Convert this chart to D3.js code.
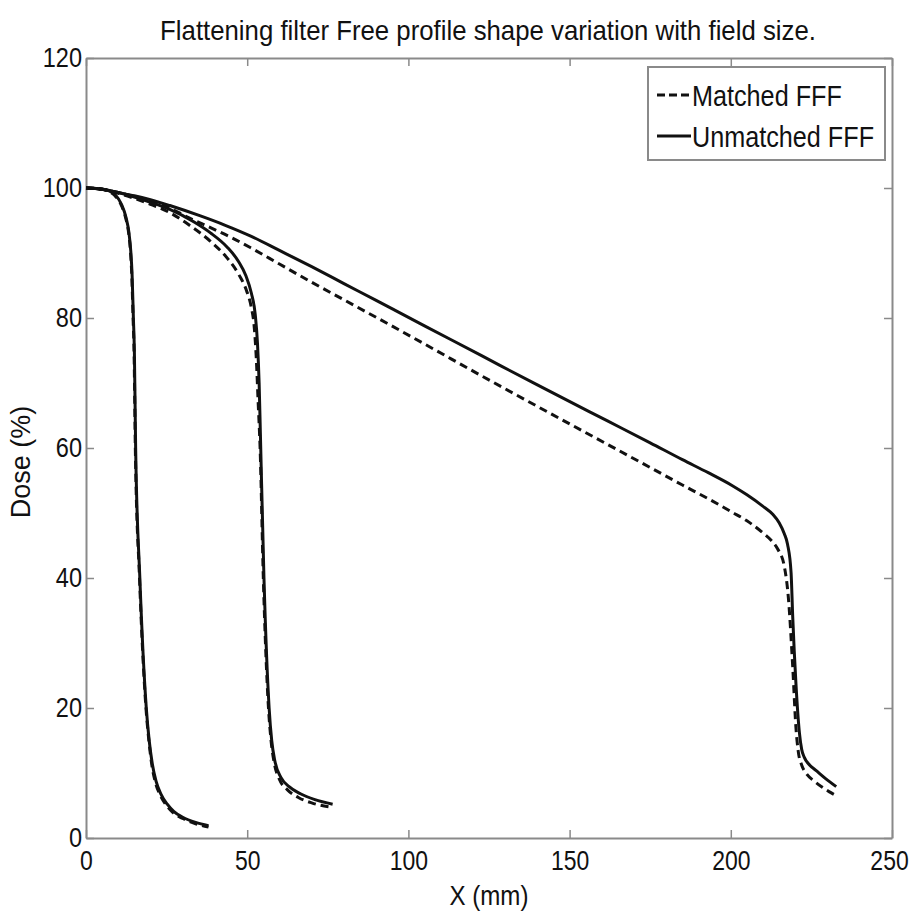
<!DOCTYPE html>
<html>
<head>
<meta charset="utf-8">
<script src="https://cdn.jsdelivr.net/npm/d3@7"></script>
<style>
  body { margin: 0; background: #fff; }
  svg text { font-family: "Liberation Sans", Arial, sans-serif; fill: #111; }
</style>
</head>
<body>
<div id="chart"></div>
<script>
// profile data: [X (mm), Dose (%)]
const matchedSmall = [
  [0, 100], [4, 99.9], [7, 99.5], [9, 98.8], [11, 97.3], [12.3, 95.4], [13.2, 93.2],
  [13.8, 90.2], [14.2, 86.6], [14.6, 80], [14.9, 75], [15.3, 60], [16.6, 40], [18.6, 20],
  [19.5, 15], [20.4, 11.3], [21.5, 8.6], [23, 6.6], [25, 5], [27, 3.9], [30, 3.0],
  [34, 2.2], [38, 1.7]
];
const unmatchedSmall = [
  [0, 100], [4, 99.9], [7, 99.6], [9, 99.0], [11, 97.5], [12.4, 95.5], [13.3, 93.2],
  [13.9, 90.2], [14.3, 86.6], [14.7, 80], [15.0, 75], [15.4, 60], [16.7, 40], [18.7, 20],
  [19.6, 15], [20.6, 11.3], [21.7, 8.8], [23.2, 6.8], [25.2, 5.2], [27.2, 4.1], [30, 3.2],
  [34, 2.4], [38, 1.9]
];
const matchedMedium = [
  [0, 100], [5, 99.8], [10, 99.2], [15, 98.4], [20, 97.5], [26, 96.2], [32, 94.3],
  [38.6, 91.8], [44, 89.1], [47.5, 86.6], [49.8, 84.2], [51.2, 81.8], [52.2, 78.5],
  [52.8, 74], [53.4, 67], [54, 60], [55, 40], [56.6, 20], [57.4, 15], [58.4, 11.5],
  [60, 9], [62.5, 7.4], [66, 6.2], [70, 5.4], [76.5, 4.7]
];
const unmatchedMedium = [
  [0, 100], [5, 99.8], [10, 99.3], [15, 98.6], [20, 97.8], [26, 96.7], [33.4, 94.8],
  [38.6, 93.1], [43.8, 90.9], [47.3, 88.7], [49.6, 86.5], [51.3, 83.8], [52.5, 80.5],
  [53.2, 76], [53.7, 70], [54.1, 62], [55.2, 40], [56.8, 20], [57.6, 15], [58.6, 11.8],
  [60.5, 9.3], [63, 7.9], [66.5, 6.8], [71, 5.9], [76.5, 5.2]
];
const matchedLarge = [
  [0, 100], [5, 99.8], [10, 99.3], [15, 98.7], [20, 98.0], [26, 96.9], [32, 95.4],
  [38.6, 93.9], [45, 92.4], [51.1, 90.8], [60, 88.3], [70, 85.5], [80, 82.8], [90, 80.1],
  [105, 76.0], [122.7, 71.1], [140, 66.4], [161.6, 60.6], [175, 57.0], [185, 54.3],
  [193, 52.2], [200.5, 50.1], [205, 48.8], [209.8, 47], [212.5, 45.8], [214.5, 44.5],
  [216.6, 41.8], [217.9, 36.7], [219.2, 26.4], [220.2, 17], [220.9, 13.4], [222, 11.2],
  [223.3, 10], [226, 8.7], [230.6, 7.1], [232, 6.7]
];
const unmatchedLarge = [
  [0, 100], [5, 99.8], [10, 99.3], [15, 98.8], [20, 98.2], [26, 97.3], [35.5, 95.7],
  [43, 94.3], [51.1, 92.6], [60, 90.4], [70, 87.9], [80, 85.3], [90, 82.7], [105, 78.8],
  [122.7, 74.2], [140, 69.7], [161.6, 64.2], [175, 60.8], [185, 58.2], [193, 56.2],
  [200.5, 54.2], [205, 52.8], [209.8, 51.1], [213, 49.8], [215, 48.5], [216.6, 46.8],
  [217.6, 45.2], [218.7, 40.8], [219.2, 34.1], [220.2, 23.8], [221.3, 16.1], [222, 13.6],
  [222.8, 12.4], [224.5, 11.2], [226.4, 10.4], [229.5, 9.1], [232.7, 7.9]
];

const xTicks = [0, 50, 100, 150, 200, 250];
const yTicks = [0, 20, 40, 60, 80, 100, 120];

const series = [
  { name: "Matched FFF", dashed: true, curves: [matchedSmall, matchedMedium, matchedLarge] },
  { name: "Unmatched FFF", dashed: false, curves: [unmatchedSmall, unmatchedMedium, unmatchedLarge] }
];

const width = 917;
const height = 920;
const margin = { left: 86, right: 25, top: 58, bottom: 82 };

const svg = d3.select("#chart")
  .append("svg")
  .attr("width", width)
  .attr("height", height);

//original text is tall and condensed, squeeze it horizontally
const squeeze = (sel, k) => {
  sel.each(function () {
    const len = this.getComputedTextLength();
    d3.select(this).attr("textLength", len * k).attr("lengthAdjust", "spacingAndGlyphs");
  });
};

const xScale = d3.scaleLinear().domain([0, 250]).range([margin.left, width - margin.right]);
const yScale = d3.scaleLinear().domain([0, 120]).range([height - margin.bottom, margin.top]);

const axisColor = "#8a8a8a";
const tick = 8;

//matlab style box: ticks point inwards on all 4 sides
const xBottom = svg.append("g")
  .attr("transform", `translate(0, ${yScale(0)})`)
  .call(d3.axisBottom(xScale).tickValues(xTicks).tickSize(-tick).tickPadding(10).tickSizeOuter(0));
const xTop = svg.append("g")
  .attr("transform", `translate(0, ${yScale(120)})`)
  .call(d3.axisTop(xScale).tickValues(xTicks).tickSize(-tick).tickFormat("").tickSizeOuter(0));
const yLeft = svg.append("g")
  .attr("transform", `translate(${xScale(0)}, 0)`)
  .call(d3.axisLeft(yScale).tickValues(yTicks).tickSize(-tick).tickPadding(4).tickSizeOuter(0));
const yRight = svg.append("g")
  .attr("transform", `translate(${xScale(250)}, 0)`)
  .call(d3.axisRight(yScale).tickValues(yTicks).tickSize(-tick).tickFormat("").tickSizeOuter(0));

[xBottom, xTop, yLeft, yRight].forEach((g) => {
  g.select(".domain").attr("stroke", axisColor).attr("stroke-width", 2);
  g.selectAll(".tick line").attr("stroke", axisColor).attr("stroke-width", 1.5);
  g.selectAll(".tick text")
    .attr("fill", "#111")
    .style("font-size", "28px")
    .style("font-family", "'Liberation Sans', Arial, sans-serif");
});
xBottom.selectAll(".tick text").attr("dy", "0.8em").call(squeeze, 0.82);
//keep the last label inside the page like the original
xBottom.selectAll(".tick text").filter((d) => d === 250).attr("dx", -3);
yLeft.selectAll(".tick text").attr("dy", "0.3em").call(squeeze, 0.84);

//profile curves
const line = d3.line()
  .x((d) => xScale(d[0]))
  .y((d) => yScale(d[1]))
  .curve(d3.curveMonotoneX);

series.forEach((s) => {
  svg.append("g")
    .selectAll("path")
    .data(s.curves)
    .enter()
    .append("path")
      .attr("d", line)
      .attr("fill", "none")
      .attr("stroke", "#111")
      .attr("stroke-width", 3)
      .attr("stroke-dasharray", s.dashed ? "8,5" : null);
});

//title and axis labels
svg.append("text")
  .attr("x", 488)
  .attr("y", 40)
  .attr("text-anchor", "middle")
  .style("font-size", "28px")
  .text("Flattening filter Free profile shape variation with field size.")
  .call(squeeze, 0.92);

svg.append("text")
  .attr("x", (xScale(0) + xScale(250)) / 2)
  .attr("y", 905)
  .attr("text-anchor", "middle")
  .style("font-size", "28px")
  .text("X (mm)")
  .call(squeeze, 0.86);

svg.append("text")
  .attr("transform", `translate(30, ${(yScale(0) + yScale(120)) / 2 + 14}) rotate(-90)`)
  .attr("text-anchor", "middle")
  .style("font-size", "27px")
  .text("Dose (%)");

//legend
const legend = svg.append("g").attr("transform", "translate(648, 67)");
legend.append("rect")
  .attr("width", 237)
  .attr("height", 93)
  .attr("fill", "#fff")
  .attr("stroke", axisColor)
  .attr("stroke-width", 2);

const legendItem = legend.selectAll("g.item")
  .data(series)
  .enter()
  .append("g")
  .attr("class", "item")
  .attr("transform", (d, i) => `translate(0, ${28 + i * 41})`);

legendItem.append("line")
  .attr("x1", 9)
  .attr("x2", 43)
  .attr("stroke", "#111")
  .attr("stroke-width", 3)
  .attr("stroke-dasharray", (d) => d.dashed ? "8,4" : null);

legendItem.append("text")
  .attr("x", 44)
  .attr("dy", "0.36em")
  .style("font-size", "30px")
  .text((d) => d.name)
  .call(squeeze, 0.84);
</script>
</body>
</html>
